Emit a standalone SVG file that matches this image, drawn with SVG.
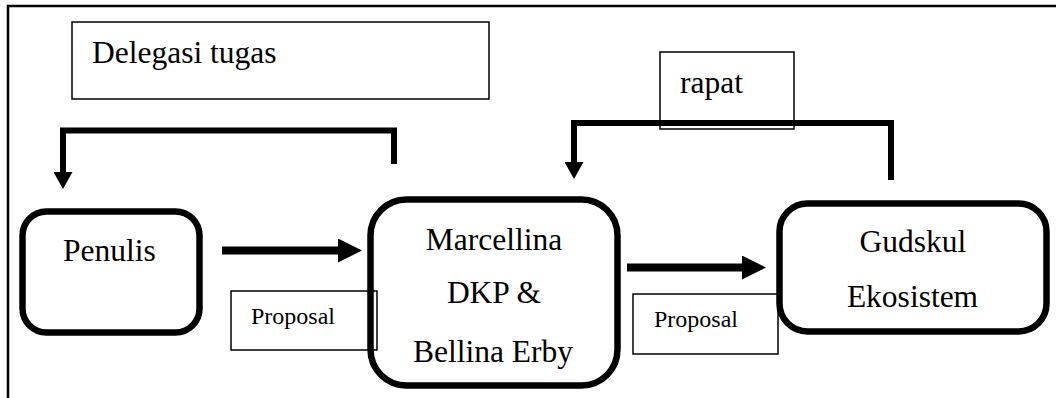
<svg xmlns="http://www.w3.org/2000/svg" width="1056" height="398" viewBox="0 0 1056 398">
  <style>
    .frame { fill: none; stroke: #000; stroke-width: 2.5; }
    .node { fill: #fff; stroke: #000; stroke-width: 6.5; }
    .label-box { fill: none; stroke: #000; stroke-width: 1.5; }
    .t { font-family: "Liberation Serif", "Times New Roman", serif; fill: #000; }
    .big { font-size: 31.5px; }
    .small { font-size: 24px; }
    .conn { fill: none; stroke: #000; stroke-linejoin: miter; stroke-linecap: butt; }
    .thick { stroke-width: 8; }
    .mid { stroke-width: 6; }
  </style>
  <defs>
    <marker id="ahBig" markerUnits="userSpaceOnUse" markerWidth="24" markerHeight="24" refX="0" refY="12" orient="auto">
      <path d="M0,0 L24,12 L0,24 Z" fill="#000"/>
    </marker>
    <marker id="ahSmall" markerUnits="userSpaceOnUse" markerWidth="17" markerHeight="19" refX="0" refY="9.5" orient="auto">
      <path d="M0,0 L17,9.5 L0,19 Z" fill="#000"/>
    </marker>
  </defs>

  <rect width="1056" height="398" fill="#fff"/>
  <path class="frame" d="M8,398 V6 H1056"/>

  <g id="penulis">
    <rect class="node" x="22.5" y="211.5" width="177" height="121" rx="24" ry="24"/>
    <text class="t big" x="63" y="261">Penulis</text>
  </g>

  <g id="marcellina">
    <rect class="node" x="370.5" y="199.5" width="247" height="186" rx="36" ry="36"/>
    <text class="t big" x="494" y="250" text-anchor="middle">Marcellina</text>
    <text class="t big" x="494" y="303" text-anchor="middle">DKP &amp;</text>
    <text class="t big" x="493" y="362" text-anchor="middle">Bellina Erby</text>
  </g>

  <g id="gudskul">
    <rect class="node" x="779.5" y="203.5" width="267" height="128" rx="28" ry="28"/>
    <text class="t big" x="913" y="252" text-anchor="middle">Gudskul</text>
    <text class="t big" x="912.5" y="307" text-anchor="middle">Ekosistem</text>
  </g>

  <g id="connectors">
    <path class="conn mid" d="M394,164 V130.5 H63 V172" marker-end="url(#ahSmall)"/>
    <path class="conn mid" d="M891,180 V123 H574 V162" marker-end="url(#ahSmall)"/>
    <path class="conn thick" d="M222,250.5 H338" marker-end="url(#ahBig)"/>
    <path class="conn thick" d="M627,267.5 H742" marker-end="url(#ahBig)"/>
  </g>

  <g id="label-delegasi">
    <rect class="label-box" x="72" y="22" width="417" height="77"/>
    <text class="t big" x="92" y="63">Delegasi tugas</text>
  </g>

  <g id="label-rapat">
    <rect class="label-box" x="660" y="52" width="134" height="77"/>
    <text class="t big" x="680" y="93">rapat</text>
  </g>

  <g id="label-proposal-1">
    <rect class="label-box" x="231" y="291" width="146" height="59"/>
    <text class="t small" x="251" y="324">Proposal</text>
  </g>

  <g id="label-proposal-2">
    <rect class="label-box" x="633" y="294" width="145" height="60"/>
    <text class="t small" x="654" y="327">Proposal</text>
  </g>
</svg>
